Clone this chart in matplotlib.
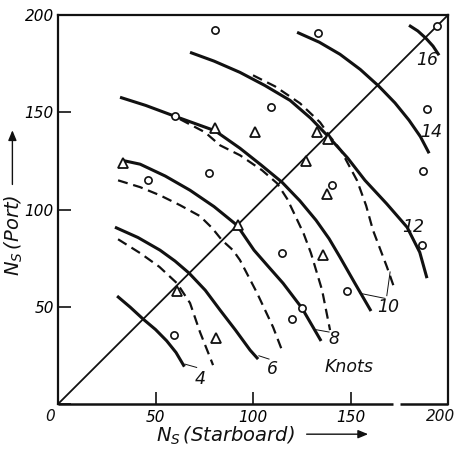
import matplotlib
matplotlib.use('Agg')
import matplotlib.pyplot as plt
from matplotlib.patches import FancyArrowPatch

narrow = ['Liberation Sans Narrow', 'DejaVu Sans']
plt.rcParams['font.family'] = narrow
plt.rcParams['font.style'] = 'italic'
plt.rcParams['mathtext.fontset'] = 'dejavusans'

# ---- data (N_S starboard, N_S port) ----
# solid curves
s4_x = [30.3, 37.0, 43.6, 50.0, 55.7, 60.5, 64.8]
s4_y = [55.5, 49.8, 43.7, 38.3, 32.5, 26.5, 19.2]
s6_x = [29.2, 41.0, 52.3, 60.0, 67.2, 75.5, 83.1, 91.0, 98.5, 102.6]
s6_y = [90.9, 85.6, 79.1, 73.5, 67.3, 58.5, 48.3, 38.0, 27.7, 23.1]
s8_x = [32.8, 42.1, 55.0, 67.7, 80.0, 91.8, 100.5, 108.0, 115.4, 125.1, 134.9]
s8_y = [125.3, 123.3, 117.2, 109.9, 101.5, 91.9, 79.1, 70.5, 62.1, 49.3, 32.4]
s10_x = [31.8, 45.0, 60.0, 80.5, 93.3, 104.0, 114.9, 124.0, 132.3, 139.0, 144.6, 152.0, 160.5]
s10_y = [157.7, 153.5, 147.9, 140.5, 131.5, 123.0, 114.0, 104.5, 94.5, 85.0, 75.5, 62.5, 47.8]
s12_x = [67.7, 80.0, 93.3, 106.0, 119.0, 129.5, 139.0, 148.5, 157.4, 168.5, 179.0, 185.5, 189.2]
s12_y = [180.8, 176.3, 170.5, 163.8, 156.1, 147.0, 137.1, 126.5, 115.0, 103.0, 90.9, 78.0, 64.7]
s14_x = [122.6, 134.0, 144.6, 155.0, 164.6, 172.8, 180.0, 185.8, 190.3]
s14_y = [191.1, 186.0, 179.8, 172.0, 163.3, 154.8, 145.9, 137.5, 128.9]
s16_x = [180.0, 184.5, 188.7, 192.3, 195.4]
s16_y = [194.7, 191.8, 188.0, 184.0, 179.3]

# dashed curves
d4_x = [30.8, 42.1, 52.0, 61.0, 67.7, 72.8, 77.9, 79.5]
d4_y = [84.7, 77.6, 70.5, 62.1, 51.9, 37.0, 24.1, 20.0]
d6_x = [30.8, 42.1, 52.3, 62.6, 72.8, 79.0, 84.1, 89.7, 93.3, 102.1, 110.3, 115.4]
d6_y = [115.0, 111.5, 107.3, 102.2, 96.6, 90.5, 84.2, 79.1, 74.0, 57.0, 39.5, 26.2]
d8_x = [62.6, 75.4, 83.1, 93.3, 104.6, 112.3, 117.5, 121.5, 126.0, 129.7, 135.4, 139.5]
d8_y = [146.4, 139.7, 133.0, 127.9, 120.2, 113.5, 105.5, 97.1, 87.5, 77.6, 58.6, 38.0]
d10_x = [100.0, 111.3, 124.1, 134.4, 139.5, 145.0, 153.3, 158.0, 161.5, 168.7, 172.8]
d10_y = [169.0, 163.3, 154.6, 144.8, 137.5, 130.5, 115.0, 102.0, 89.4, 70.4, 58.6]

diag_x = [0, 200]
diag_y = [0, 200]

# measured points
circ_x = [80.5, 133.5, 194.4, 109.2, 189.1, 187.2, 140.5, 60.0, 46.0, 77.4,
          115.0, 186.7, 148.4, 120.2, 125.3, 59.5]
circ_y = [192.1, 190.9, 194.1, 152.5, 151.5, 119.7, 112.5, 147.9, 115.0, 118.8,
          77.6, 81.8, 58.2, 43.7, 49.2, 35.4]
tri_x = [33.5, 80.5, 101.0, 132.7, 138.6, 127.0, 138.1, 92.3, 136.0, 60.9, 81.0]
tri_y = [124.1, 142.1, 139.9, 139.9, 136.5, 124.8, 108.2, 91.9, 76.7, 58.2, 33.7]

# labels
lab_text = ["4", "6", "8", "10", "12", "14", "16"]
lab_x = [72.8, 109.9, 141.5, 169.4, 182.2, 191.1, 189.2]
lab_y = [12.8, 18.0, 33.4, 50.0, 91.1, 139.9, 176.7]

ticks = [0, 50, 100, 150, 200]
xtick_labels = ["", "50", "100", "150", ""]
ytick_labels = ["", "50", "100", "150", "200"]

# ---- figure ----
fig = plt.figure(figsize=(4.59, 4.49), dpi=100)
ax = fig.add_axes([0.1264, 0.1002, 0.8497, 0.8664])
ax.set_xlim(0, 200)
ax.set_ylim(0, 200)

ink = '#111111'

solid_kw = dict(color=ink, lw=2.2, solid_capstyle='butt')
dash_kw = dict(color=ink, lw=1.6, linestyle=(0, (4.5, 2.6)))

for xs, ys in [(s4_x, s4_y), (s6_x, s6_y), (s8_x, s8_y), (s10_x, s10_y),
               (s12_x, s12_y), (s14_x, s14_y), (s16_x, s16_y)]:
    ax.plot(xs, ys, **solid_kw)
for xs, ys in [(d4_x, d4_y), (d6_x, d6_y), (d8_x, d8_y), (d10_x, d10_y)]:
    ax.plot(xs, ys, **dash_kw)

ax.plot(diag_x, diag_y, color=ink, lw=1.3, clip_on=False)

ax.plot(circ_x, circ_y, linestyle='none', marker='o', ms=5.2, mfc='white',
        mec=ink, mew=1.2, zorder=5)
ax.plot(tri_x, tri_y, linestyle='none', marker='^', ms=6.5, mfc='white',
        mec=ink, mew=1.3, zorder=5)

for t, x, y in zip(lab_text, lab_x, lab_y):
    ax.text(x, y, t, ha='center', va='center', fontsize=12.5, color=ink)
ax.text(149.2, 19.0, "Knots", ha='center', va='center', fontsize=12.5,
        style='italic', family='DejaVu Sans', color=ink)

# leader lines
lead_kw = dict(color=ink, lw=0.7)
ax.plot([71.1, 65.1], [18.8, 20.5], **lead_kw)
ax.plot([108.2, 103.0], [23.1, 24.8], **lead_kw)
ax.plot([139.0, 131.8], [37.0, 38.3], **lead_kw)
ax.plot([167.7, 154.9], [54.3, 56.9], **lead_kw)
ax.plot([168.6, 170.3], [55.7, 67.9], **lead_kw)

# spines
for s in ['left', 'right', 'top']:
    ax.spines[s].set_linewidth(1.6)
    ax.spines[s].set_color(ink)
ax.spines['bottom'].set_visible(False)
ax.plot([0, 171.8], [0, 0], color=ink, lw=1.8, clip_on=False, solid_capstyle='butt')
ax.plot([175.4, 200], [0, 0], color=ink, lw=1.8, clip_on=False, solid_capstyle='butt')

ax.tick_params(direction='in', length=9, width=1.2, color=ink, labelsize=11)
ax.tick_params(axis='x', pad=4)
ax.tick_params(axis='y', pad=3)
ax.set_xticks(ticks)
ax.set_xticklabels(xtick_labels)
ax.set_yticks(ticks)
ax.set_yticklabels(ytick_labels)
# origin and end labels
ax.text(-4, -6.5, "0", ha='center', va='center', fontsize=11, color=ink,
        clip_on=False)
ax.text(203.5, -6.5, "200", ha='right', va='center', fontsize=11, color=ink,
        clip_on=False)

# axis labels with arrows
fig.text(0.492, 0.030, r"$N_S\,$(Starboard)", ha='center', va='center',
         fontsize=14, style='italic', family='DejaVu Sans', color=ink)
fig.text(0.030, 0.476, r"$N_S\,$(Port)", ha='center', va='center',
         fontsize=14, style='italic', family='DejaVu Sans', color=ink,
         rotation=90)
fig.add_artist(FancyArrowPatch(
    (0.662, 0.033), (0.808, 0.033), transform=fig.transFigure,
    arrowstyle='-|>,head_length=6,head_width=2.5', color=ink, lw=1.0,
    mutation_scale=1))
fig.add_artist(FancyArrowPatch(
    (0.027, 0.583), (0.027, 0.716), transform=fig.transFigure,
    arrowstyle='-|>,head_length=6,head_width=2.5', color=ink, lw=1.0,
    mutation_scale=1))

fig.savefig('out.png', dpi=100, facecolor='white')
